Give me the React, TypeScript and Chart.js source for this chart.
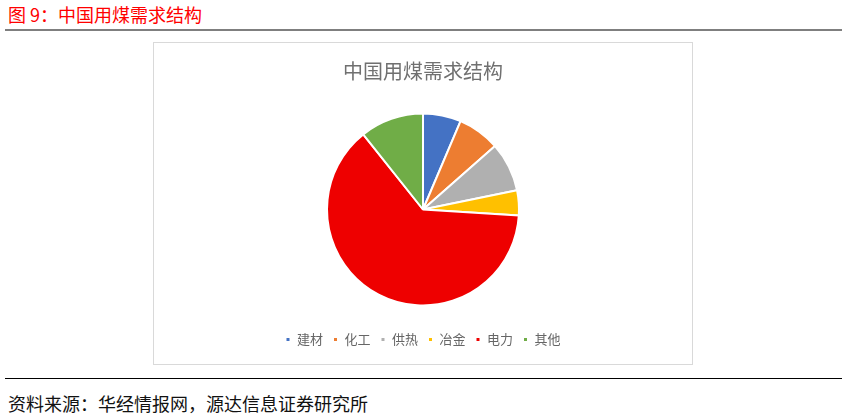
import React, { useEffect, useRef } from "react";
import { Chart, registerables } from "chart.js";

Chart.register(...registerables);

const categories = ["建材", "化工", "供热", "冶金", "电力", "其他"];
const shares = [6.4, 7.1, 8.3, 4.2, 63.3, 10.7];
const colors = ["#4472C4", "#ED7D31", "#B0B0B0", "#FFC000", "#EE0000", "#70AD47"];

const FONT = "'Noto Sans CJK SC', 'Noto Sans', sans-serif";

export default function App() {
  const ref = useRef<HTMLCanvasElement | null>(null);

  useEffect(() => {
    document.body.style.margin = "0";
    if (!ref.current) return;
    const chart = new Chart(ref.current, {
      type: "pie",
      data: {
        labels: categories,
        datasets: [
          {
            data: shares,
            backgroundColor: colors,
            borderColor: "#ffffff",
            borderWidth: 2,
          },
        ],
      },
      options: {
        animation: false,
        responsive: false,
        maintainAspectRatio: false,
        radius: 96,
        layout: { padding: { top: 0, bottom: 8, left: 0, right: 0 } },
        plugins: {
          tooltip: { enabled: false },
          title: {
            display: true,
            text: "中国用煤需求结构",
            color: "#707070",
            font: { family: FONT, size: 20, weight: "normal" },
            padding: { top: 16, bottom: 13 },
          },
          legend: {
            position: "bottom",
            labels: {
              boxWidth: 5,
              boxHeight: 5,
              padding: 10,
              color: "#666666",
              font: { family: FONT, size: 13 },
            },
          },
        },
      },
    });
    return () => chart.destroy();
  }, []);

  return (
    <div style={{ position: "relative", width: 847, height: 419, background: "#fff", fontFamily: FONT }}>
      <div style={{ position: "absolute", left: 8, top: 2, fontSize: 18, color: "#FF0000", lineHeight: "24px", whiteSpace: "nowrap" }}>
        图 9：中国用煤需求结构
      </div>
      <div style={{ position: "absolute", left: 5, top: 29, width: 837, height: 2, background: "#7f7f7f" }} />
      <div
        style={{
          position: "absolute",
          left: 153,
          top: 42,
          width: 538,
          height: 321,
          border: "1px solid #d9d9d9",
        }}
      >
        <canvas ref={ref} width={538} height={321} style={{ display: "block", width: 538, height: 321 }} />
      </div>
      <div style={{ position: "absolute", left: 5, top: 378, width: 837, height: 1, background: "#000" }} />
      <div style={{ position: "absolute", left: 8, top: 391, fontSize: 18, color: "#111", lineHeight: "24px", whiteSpace: "nowrap" }}>
        资料来源：华经情报网，源达信息证券研究所
      </div>
    </div>
  );
}
